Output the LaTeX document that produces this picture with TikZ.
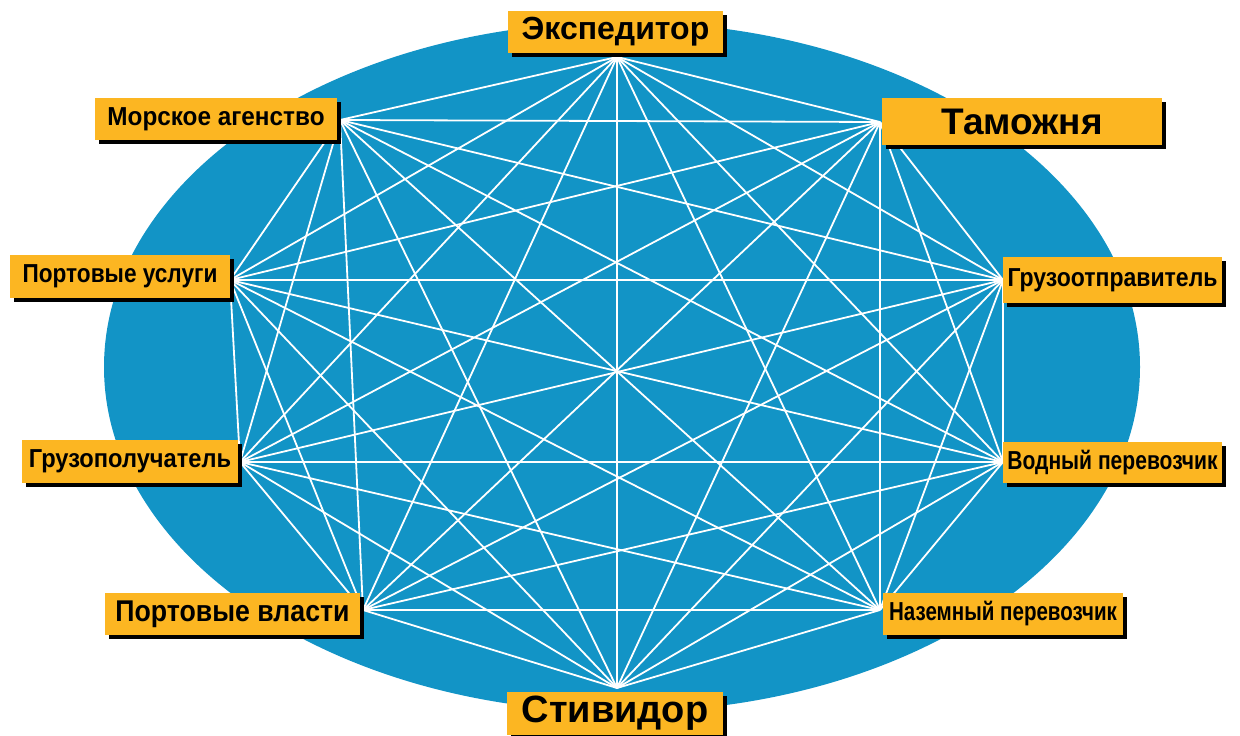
\documentclass[tikz,border=0pt]{standalone}
\usepackage{fontspec}
\usepackage{graphicx}
\setmainfont{Liberation Sans}
\usetikzlibrary{shadows}
\definecolor{oceanblue}{RGB}{18,148,198}
\definecolor{labelorange}{RGB}{252,182,34}
\newcommand{\lbltxt}[2]{\scalebox{#1}[1]{#2}}
\begin{document}
\begin{tikzpicture}[x=1pt,y=-1pt,
  lbl/.style={fill=labelorange, inner sep=0pt, text=black, align=center,
    drop shadow={shadow xshift=4pt, shadow yshift=-4pt, fill=black, opacity=1}},
  small/.style={font=\fontsize{26}{28}\selectfont\bfseries},
  link/.style={white, line width=1.8pt}]
\useasboundingbox (0,0) rectangle (1240,736);
\fill[oceanblue] (622,367) ellipse [x radius=518, y radius=345];
% connection points
\coordinate (p1) at (617,57);
\coordinate (p2) at (340,120);
\coordinate (p3) at (880,122);
\coordinate (p4) at (230,280);
\coordinate (p5) at (1003,280);
\coordinate (p6) at (240,462);
\coordinate (p7) at (1003,462);
\coordinate (p8) at (363,610);
\coordinate (p9) at (880,610);
\coordinate (p10) at (617,688);
\foreach \i in {1,...,10}{
  \foreach \j in {1,...,10}{
    \ifnum\i<\j \draw[link] (p\i) -- (p\j); \fi
  }
}
% labels
\node[lbl, minimum width=215pt, minimum height=42pt, font=\fontsize{32}{36}\selectfont\bfseries] (expeditor) at (615.5,32) {Экспедитор};
\node[lbl, small, minimum width=242pt, minimum height=42pt] (agency) at (216,119) {\lbltxt{0.935}{Морское агенство}};
\node[lbl, minimum width=280pt, minimum height=47pt, font=\fontsize{37}{40}\selectfont\bfseries] (customs) at (1022,121.5) {Таможня};
\node[lbl, small, minimum width=220pt, minimum height=43pt] (portservices) at (120,276.5) {\lbltxt{0.87}{Портовые услуги}};
\node[lbl, small, minimum width=219pt, minimum height=46pt] (shipper) at (1112.5,280) {\lbltxt{0.885}{Грузоотправитель}};
\node[lbl, small, minimum width=216pt, minimum height=43pt] (consignee) at (130,461.5) {\lbltxt{0.91}{Грузополучатель}};
\node[lbl, small, minimum width=219pt, minimum height=41pt] (water) at (1112.5,462.5) {\lbltxt{0.81}{Водный перевозчик}};
\node[lbl, minimum width=255pt, minimum height=42pt, font=\fontsize{30}{32}\selectfont\bfseries] (authorities) at (232.5,614) {\lbltxt{0.89}{Портовые власти}};
\node[lbl, small, minimum width=240pt, minimum height=42pt] (land) at (1003,614) {\lbltxt{0.79}{Наземный перевозчик}};
\node[lbl, minimum width=216pt, minimum height=43pt, font=\fontsize{38}{40}\selectfont\bfseries] (stevedore) at (615,713.5) {Стивидор};
\end{tikzpicture}
\end{document}
